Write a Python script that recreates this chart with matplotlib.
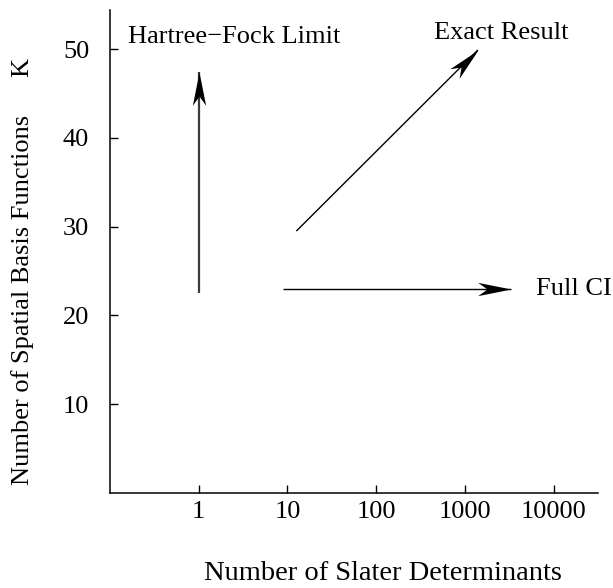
import numpy as np
import matplotlib
matplotlib.use("Agg")
import matplotlib.pyplot as plt
from matplotlib.path import Path
from matplotlib.markers import MarkerStyle
from matplotlib.transforms import Affine2D

plt.rcParams["font.family"] = ["Liberation Serif", "DejaVu Serif"]

# Axis ranges and ticks
x_ticks = [1, 10, 100, 1000, 10000]
x_tick_labels = ["1", "10", "100", "1000", "10000"]
y_ticks = [10, 20, 30, 40, 50]
x_range = (0.1, 31600)
y_range = (0, 54.4)

# Arrows: (start, end) in (determinants, basis functions)
hf_arrow = [(1, 22.5), (1, 47.4)]
exact_arrow = [(12.6, 29.5), (1400, 49.9)]
ci_arrow = [(8.9, 23.0), (3340, 23.0)]

# Labels: (text, x, y)
labels = [
    ("Hartree\u2212Fock Limit", 0.16, 51.4),
    ("Exact Result", 446, 51.8),
    ("Full CI", 6380, 22.95),
]

FS = 19

fig = plt.figure(figsize=(6.13, 5.88), dpi=100)
ax = fig.add_axes([0.1794, 0.1616, 0.9755 - 0.1794, 0.983 - 0.1616])
ax.set_xscale("log")
ax.set_xlim(*x_range)
ax.set_ylim(*y_range)
ax.set_xticks(x_ticks)
ax.set_xticklabels(x_tick_labels)
ax.minorticks_off()
ax.set_yticks(y_ticks)
ax.tick_params(axis="both", direction="in", length=6, width=1, labelsize=FS)
ax.tick_params(axis="x", pad=6)
ax.tick_params(axis="y", pad=15)
for side in ("top", "right"):
    ax.spines[side].set_visible(False)
for side in ("left", "bottom"):
    ax.spines[side].set_linewidth(1.1)

ax.set_xlabel("Number of Slater Determinants", fontsize=20.5, va="center")
ax.xaxis.set_label_coords(0.56, -0.167)
ax.set_ylabel("Number of Spatial Basis Functions", fontsize=FS, va="center")
ax.yaxis.set_label_coords(-0.180, 0.4006)
ax.text(-0.180, 0.881, "K", transform=ax.transAxes, rotation=90,
        ha="center", va="center", fontsize=FS)

# Stealth-style arrow head, tip at the origin pointing along +x
head_path = Path(
    [(0, 0), (-1, 0.2), (-0.72, 0), (-1, -0.2), (0, 0)],
    [Path.MOVETO, Path.LINETO, Path.LINETO, Path.LINETO, Path.CLOSEPOLY],
)


def draw_arrow(seg, lw, color):
    (x0, y0), (x1, y1) = seg
    ax.plot([x0, x1], [y0, y1], color=color, lw=lw, solid_capstyle="butt")
    p0 = ax.transData.transform((x0, y0))
    p1 = ax.transData.transform((x1, y1))
    ang = np.degrees(np.arctan2(p1[1] - p0[1], p1[0] - p0[0]))
    marker = MarkerStyle(head_path, transform=Affine2D().rotate_deg(ang))
    ax.plot([x1], [y1], marker=marker, markersize=48, color="black",
            markeredgewidth=0, linestyle="none", clip_on=False)


draw_arrow(hf_arrow, 1.6, "#3a3a3a")
draw_arrow(exact_arrow, 1.0, "black")
draw_arrow(ci_arrow, 1.0, "black")

for text, x, y in labels:
    ax.text(x, y, text, ha="left", va="center", fontsize=FS)

fig.savefig("out.png", dpi=100)
